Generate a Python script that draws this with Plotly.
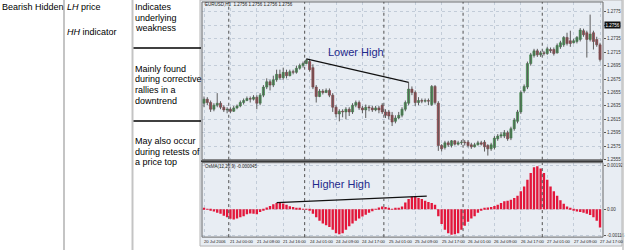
import plotly.graph_objects as go

W, H = 625, 252

# ---------------- data ----------------
TIME_LABELS = ["20 Jul 2006", "21 Jul 00:00", "21 Jul 08:00", "21 Jul 16:00", "24 Jul 01:00",
               "24 Jul 09:00", "24 Jul 17:00", "25 Jul 01:00", "25 Jul 09:00", "25 Jul 17:00",
               "26 Jul 01:00", "26 Jul 09:00", "26 Jul 17:00", "27 Jul 01:00", "27 Jul 09:00",
               "27 Jul 17:00"]
LABEL_STEP = 8                      # one time label every 8 H1 bars
DAY_STARTS = [8, 31, 55, 79, 103]   # bar index of each new trading day

OPEN = [1.2639, 1.2645, 1.2640, 1.2630, 1.2636, 1.2639, 1.2633, 1.2629, 1.2630, 1.2627,
        1.2632, 1.2635, 1.2640, 1.2643, 1.2646, 1.2645, 1.2648, 1.2639, 1.2651, 1.2663,
        1.2671, 1.2666, 1.2674, 1.2682, 1.2677, 1.2685, 1.2680, 1.2686, 1.2685, 1.2691,
        1.2695, 1.2698, 1.2701, 1.2692, 1.2663, 1.2649, 1.2657, 1.2655, 1.2658, 1.2651,
        1.2633, 1.2623, 1.2627, 1.2626, 1.2630, 1.2626, 1.2636, 1.2640, 1.2632, 1.2629,
        1.2633, 1.2632, 1.2629, 1.2632, 1.2636, 1.2626, 1.2626, 1.2621, 1.2612, 1.2617,
        1.2621, 1.2630, 1.2639, 1.2660, 1.2655, 1.2640, 1.2643, 1.2642, 1.2643, 1.2637,
        1.2664, 1.2639, 1.2576, 1.2573, 1.2580, 1.2576, 1.2583, 1.2578, 1.2580, 1.2581,
        1.2581, 1.2577, 1.2574, 1.2577, 1.2580, 1.2581, 1.2576, 1.2571, 1.2573, 1.2586,
        1.2590, 1.2590, 1.2595, 1.2587, 1.2601, 1.2612, 1.2626, 1.2657, 1.2663, 1.2698,
        1.2710, 1.2717, 1.2711, 1.2714, 1.2713, 1.2719, 1.2719, 1.2714, 1.2723, 1.2726,
        1.2737, 1.2732, 1.2729, 1.2731, 1.2734, 1.2747, 1.2744, 1.2734, 1.2744, 1.2734, 1.2726]
CLOSE = [1.2645, 1.2640, 1.2630, 1.2636, 1.2639, 1.2633, 1.2629, 1.2630, 1.2627, 1.2632,
         1.2635, 1.2640, 1.2643, 1.2646, 1.2645, 1.2648, 1.2639, 1.2651, 1.2663, 1.2671,
         1.2666, 1.2674, 1.2682, 1.2677, 1.2685, 1.2680, 1.2686, 1.2685, 1.2691, 1.2695,
         1.2698, 1.2703, 1.2689, 1.2663, 1.2649, 1.2657, 1.2655, 1.2658, 1.2651, 1.2633,
         1.2623, 1.2627, 1.2626, 1.2630, 1.2626, 1.2636, 1.2640, 1.2632, 1.2629, 1.2633,
         1.2632, 1.2629, 1.2632, 1.2629, 1.2626, 1.2621, 1.2620, 1.2611, 1.2617, 1.2621,
         1.2630, 1.2640, 1.2660, 1.2655, 1.2640, 1.2643, 1.2642, 1.2643, 1.2642, 1.2664,
         1.2640, 1.2576, 1.2571, 1.2580, 1.2577, 1.2583, 1.2578, 1.2580, 1.2581, 1.2580,
         1.2576, 1.2574, 1.2577, 1.2580, 1.2578, 1.2574, 1.2571, 1.2577, 1.2587, 1.2590,
         1.2592, 1.2595, 1.2586, 1.2601, 1.2614, 1.2626, 1.2655, 1.2664, 1.2698, 1.2711,
         1.2717, 1.2711, 1.2714, 1.2713, 1.2720, 1.2717, 1.2713, 1.2725, 1.2729, 1.2737,
         1.2728, 1.2728, 1.2732, 1.2737, 1.2748, 1.2741, 1.2734, 1.2742, 1.2731, 1.2726, 1.2704]
HIGH = [1.2649, 1.2648, 1.2643, 1.2639, 1.2654, 1.2642, 1.2636, 1.2633, 1.2633, 1.2635,
        1.2637, 1.2643, 1.2646, 1.2649, 1.2649, 1.2651, 1.2651, 1.2654, 1.2666, 1.2676,
        1.2674, 1.2680, 1.2689, 1.2689, 1.2692, 1.2689, 1.2689, 1.2689, 1.2695, 1.2698,
        1.2701, 1.2705, 1.2704, 1.2697, 1.2666, 1.2660, 1.2660, 1.2661, 1.2661, 1.2654,
        1.2636, 1.2630, 1.2630, 1.2633, 1.2633, 1.2639, 1.2643, 1.2643, 1.2635, 1.2637,
        1.2636, 1.2635, 1.2635, 1.2635, 1.2639, 1.2630, 1.2629, 1.2626, 1.2621, 1.2626,
        1.2633, 1.2643, 1.2670, 1.2664, 1.2658, 1.2648, 1.2646, 1.2646, 1.2646, 1.2666,
        1.2666, 1.2642, 1.2578, 1.2583, 1.2583, 1.2584, 1.2584, 1.2583, 1.2584, 1.2584,
        1.2584, 1.2580, 1.2580, 1.2583, 1.2583, 1.2584, 1.2578, 1.2580, 1.2590, 1.2593,
        1.2596, 1.2599, 1.2598, 1.2604, 1.2617, 1.2629, 1.2658, 1.2667, 1.2701, 1.2714,
        1.2720, 1.2720, 1.2717, 1.2717, 1.2723, 1.2722, 1.2722, 1.2728, 1.2732, 1.2739,
        1.2744, 1.2747, 1.2735, 1.2739, 1.2751, 1.2750, 1.2747, 1.2771, 1.2747, 1.2738, 1.2729]
LOW = [1.2633, 1.2636, 1.2626, 1.2627, 1.2633, 1.2630, 1.2626, 1.2624, 1.2624, 1.2626,
       1.2630, 1.2633, 1.2637, 1.2642, 1.2640, 1.2643, 1.2630, 1.2636, 1.2648, 1.2660,
       1.2658, 1.2663, 1.2671, 1.2674, 1.2674, 1.2676, 1.2679, 1.2682, 1.2683, 1.2689,
       1.2692, 1.2697, 1.2686, 1.2660, 1.2640, 1.2648, 1.2652, 1.2654, 1.2648, 1.2626,
       1.2618, 1.2612, 1.2618, 1.2615, 1.2620, 1.2623, 1.2633, 1.2629, 1.2624, 1.2617,
       1.2627, 1.2626, 1.2627, 1.2624, 1.2623, 1.2617, 1.2615, 1.2605, 1.2609, 1.2615,
       1.2618, 1.2627, 1.2636, 1.2651, 1.2635, 1.2636, 1.2639, 1.2640, 1.2636, 1.2635,
       1.2637, 1.2568, 1.2567, 1.2570, 1.2574, 1.2573, 1.2576, 1.2576, 1.2577, 1.2576,
       1.2573, 1.2571, 1.2573, 1.2576, 1.2576, 1.2567, 1.2561, 1.2568, 1.2570, 1.2583,
       1.2587, 1.2587, 1.2583, 1.2584, 1.2598, 1.2609, 1.2623, 1.2654, 1.2660, 1.2695,
       1.2707, 1.2708, 1.2708, 1.2710, 1.2711, 1.2714, 1.2710, 1.2713, 1.2720, 1.2723,
       1.2725, 1.2723, 1.2728, 1.2728, 1.2731, 1.2738, 1.2707, 1.2731, 1.2719, 1.2723, 1.2701]
OSMA = [0.00003, 0.00002, -0.00005, -0.0001, -0.00015, -0.0002, -0.00028, -0.00035, -0.00042, -0.00045,
        -0.0004, -0.00035, -0.0003, -0.00022, -0.00018, -0.0002, -0.00022, -0.00012, -0.00002, 0.00008,
        0.00015, 0.00022, 0.00028, 0.0003, 0.00026, 0.0002, 0.00014, 0.0001, 0.00006, 0.00003,
        0.00002, 0.00001, -0.00003, -0.0002, -0.00035, -0.0005, -0.00062, -0.0007, -0.00078, -0.0009,
        -0.00105, -0.0011, -0.00105, -0.0009, -0.00075, -0.00062, -0.0005, -0.0004, -0.00032, -0.00024,
        -0.00015, -0.00008, 0.00002, 0.00008, 0.00012, 0.0001, 0.00004, 0.00002, 0.00003, 0.00005,
        0.00012, 0.0003, 0.00045, 0.00055, 0.00056, 0.0005, 0.00045, 0.00038, 0.00032, 0.00028,
        0.0002, -0.0003, -0.00065, -0.0009, -0.00105, -0.00112, -0.0011, -0.00105, -0.0009, -0.00072,
        -0.00055, -0.0004, -0.0003, -0.00015, -0.00005, 0.00005, 0.00008, 0.0001, 0.00015, 0.0002,
        0.00028, 0.00035, 0.00038, 0.00042, 0.0005, 0.0006, 0.0008, 0.001, 0.0013, 0.0016,
        0.00185, 0.0019, 0.0018, 0.0016, 0.0013, 0.001, 0.0008, 0.0006, 0.0004, 0.00025,
        0.00012, 0.00003, -0.00005, -0.0001, -0.00012, -0.00015, -0.0002, -0.00025, -0.00035, -0.0005, -0.0008]

PRICE_TICKS = [1.2555, 1.2575, 1.2595, 1.2615, 1.2635, 1.2655, 1.2675, 1.2695, 1.2715, 1.2735, 1.2755, 1.2775]
OSMA_TICKS = [-0.00116, 0.0, 0.00192]
OSMA_TICKTEXT = ["-0.00116", "0.00", "0.00192"]
CURRENT_PRICE = 1.2756
LOWER_HIGH_BARS = [31, 62]
HIGHER_HIGH_BARS = [23, 64]
HIGHER_HIGH_END = 67.5

TABLE_COL1 = ["Bearish Hidden"]
TABLE_COL2 = ["<i>LH</i> price", "<i>HH</i> indicator"]
TABLE_COL3 = [["Indicates", "underlying", "weakness"],
              ["Mainly found", "during corrective", "rallies in a", "downtrend"],
              ["May also occur", "during retests of", "a price top"]]

# ---------------- helpers ----------------
def px(x):
    return x / W

def py(y):
    return 1 - y / H

FONT = "Liberation Sans, Arial, sans-serif"
BULL, BULL_EDGE = "#3f9e4c", "#2b6e35"
BEAR, BEAR_EDGE = "#a9464c", "#6d2a2e"
HIST = "#e3173b"
PLOT_BG = "#dde5ee"
GRID = "#c2ccd8"

n = len(OPEN)
idx = list(range(n))

fig = go.Figure()

# wicks
wx, wy = [], []
for i in idx:
    wx += [i, i, None]
    wy += [LOW[i], HIGH[i], None]
fig.add_trace(go.Scatter(x=wx, y=wy, mode="lines", line=dict(color="#5c5c5c", width=1),
                         xaxis="x", yaxis="y", hoverinfo="skip", showlegend=False))

# bodies
bases = [min(o, c) for o, c in zip(OPEN, CLOSE)]
heights = [max(abs(c - o), 0.00009) for o, c in zip(OPEN, CLOSE)]
colors = [BULL if c >= o else BEAR for o, c in zip(OPEN, CLOSE)]
edges = [BULL_EDGE if c >= o else BEAR_EDGE for o, c in zip(OPEN, CLOSE)]
fig.add_trace(go.Bar(x=idx, y=heights, base=bases, width=0.66,
                     marker=dict(color=colors, line=dict(color=edges, width=0.5)),
                     xaxis="x", yaxis="y", showlegend=False, hoverinfo="skip"))

# lower high trend line (price)
fig.add_trace(go.Scatter(x=LOWER_HIGH_BARS, y=[HIGH[b] for b in LOWER_HIGH_BARS], mode="lines",
                         line=dict(color="#111111", width=1.1), xaxis="x", yaxis="y",
                         showlegend=False, hoverinfo="skip"))

# OsMA histogram
fig.add_trace(go.Bar(x=idx, y=OSMA, width=0.72, marker=dict(color=HIST, line=dict(width=0)),
                     xaxis="x2", yaxis="y2", showlegend=False, hoverinfo="skip"))

# higher high line (indicator), extended past the second peak
b0, b1 = HIGHER_HIGH_BARS
v0, v1 = OSMA[b0], OSMA[b1]
slope = (v1 - v0) / (b1 - b0)
fig.add_trace(go.Scatter(x=[b0 - 1, HIGHER_HIGH_END],
                         y=[v0 - slope, v0 + slope * (HIGHER_HIGH_END - b0)], mode="lines",
                         line=dict(color="#111111", width=1.1), xaxis="x2", yaxis="y2",
                         showlegend=False, hoverinfo="skip"))

label_pos = [k * LABEL_STEP for k in range(len(TIME_LABELS))]
xr = [-0.61, 120.9]
xdom = [px(202), px(603)]

shapes = []
# chart image background
shapes.append(dict(type="rect", xref="paper", yref="paper", x0=px(200), x1=px(622), y0=py(248), y1=py(0),
                   fillcolor="#e8edf3", line=dict(color="#b5b5b5", width=1), layer="below"))
# panel separator
shapes.append(dict(type="line", xref="paper", yref="paper", x0=px(201), x1=px(603), y0=py(162.5), y1=py(162.5),
                   line=dict(color="#3a3a3a", width=2)))
# panel frames
for d0, d1 in [(2, 161), (164, 239)]:
    shapes.append(dict(type="rect", xref="paper", yref="paper", x0=xdom[0], x1=xdom[1], y0=py(d1), y1=py(d0),
                       line=dict(color="#6a6a6a", width=1)))
# day separators
for d in DAY_STARTS:
    for ax in ["y", "y2"]:
        shapes.append(dict(type="line", xref="x" if ax == "y" else "x2", yref=ax + " domain",
                           x0=d - 0.5, x1=d - 0.5, y0=0, y1=1,
                           line=dict(color="#505050", width=1, dash="dot")))
# table lines
shapes.append(dict(type="line", xref="paper", yref="paper", x0=px(64), x1=px(64), y0=0, y1=1,
                   line=dict(color="#c4c4c4", width=2)))
shapes.append(dict(type="line", xref="paper", yref="paper", x0=px(132.5), x1=px(132.5), y0=0, y1=1,
                   line=dict(color="#c4c4c4", width=2)))
shapes.append(dict(type="line", xref="paper", yref="paper", x0=px(623), x1=px(623), y0=0, y1=1,
                   line=dict(color="#c4c4c4", width=1.5)))
for yy in [48.3, 122]:
    shapes.append(dict(type="line", xref="paper", yref="paper", x0=px(133.5), x1=px(201), y0=py(yy), y1=py(yy),
                       line=dict(color="#000000", width=1.5)))

ann = []
def txt(x, y, s, size=9, color="#000", anchor="left", **kw):
    ann.append(dict(x=px(x), y=py(y), xref="paper", yref="paper", text=s, showarrow=False,
                    xanchor=anchor, yanchor="middle", font=dict(family=FONT, size=size, color=color), **kw))

txt(0, 7, TABLE_COL1[0])
txt(64.5, 7, TABLE_COL2[0])
txt(64.5, 32, TABLE_COL2[1])
starts = [7, 69.3, 142]
for block, y0 in zip(TABLE_COL3, starts):
    for k, line in enumerate(block):
        txt(133, y0 + k * 10.8, line)

# chart captions
txt(202.5, 5, "EURUSD,H1  1.2756 1.2756 1.2756 1.2756", size=4.5, color="#222")
txt(202.5, 167.5, "OsMA(12,26,9) -0.000045", size=4.5, color="#222")

# time labels (left aligned like MT4)
for pos, lab in zip(label_pos, TIME_LABELS):
    ann.append(dict(x=pos, y=py(243.5), xref="x2", yref="paper", text=lab, showarrow=False,
                    xanchor="left", yanchor="middle", xshift=-2,
                    font=dict(family=FONT, size=4.2, color="#222")))

# current price box
ann.append(dict(x=px(604), y=CURRENT_PRICE, xref="paper", yref="y", text="%.4f" % CURRENT_PRICE,
                showarrow=False, xanchor="left", yanchor="middle", bgcolor="#111111",
                font=dict(family=FONT, size=4.5, color="#ffffff"), borderpad=0.5))

# big labels
ann.append(dict(x=46, y=1.2716, xref="x", yref="y", text="Lower High", showarrow=False,
                font=dict(family=FONT, size=11, color="#1e2a8c")))
ann.append(dict(x=41.5, y=0.00113, xref="x2", yref="y2", text="Higher High", showarrow=False,
                font=dict(family=FONT, size=11, color="#1e2a8c")))

axis_common = dict(range=xr, domain=xdom, showticklabels=False, tickvals=label_pos, showgrid=True,
                   gridcolor=GRID, griddash="dot", gridwidth=1, zeroline=False, showline=False, ticks="")

fig.update_layout(
    width=W, height=H, margin=dict(l=0, r=0, t=0, b=0),
    paper_bgcolor="#ffffff", plot_bgcolor=PLOT_BG,
    barmode="overlay", showlegend=False,
    xaxis=dict(anchor="y", **axis_common),
    xaxis2=dict(anchor="y2", matches="x", **axis_common),
    yaxis=dict(domain=[py(161), py(2)], range=[1.25548, 1.27898], anchor="x", side="right",
               tickvals=PRICE_TICKS, ticktext=["%.4f" % t for t in PRICE_TICKS],
               tickfont=dict(family=FONT, size=4.5, color="#333"), ticks="outside", ticklen=2,
               tickcolor="#555", showgrid=True, gridcolor=GRID, griddash="dot", zeroline=False),
    yaxis2=dict(domain=[py(239), py(164)], range=[-0.001222, 0.002051], anchor="x2", side="right",
                tickvals=OSMA_TICKS, ticktext=OSMA_TICKTEXT,
                tickfont=dict(family=FONT, size=4.5, color="#333"), ticks="outside", ticklen=2,
                tickcolor="#555", showgrid=True, gridcolor=GRID, griddash="dot", zeroline=False),
    shapes=shapes, annotations=ann,
)

fig.write_html("out.html")
